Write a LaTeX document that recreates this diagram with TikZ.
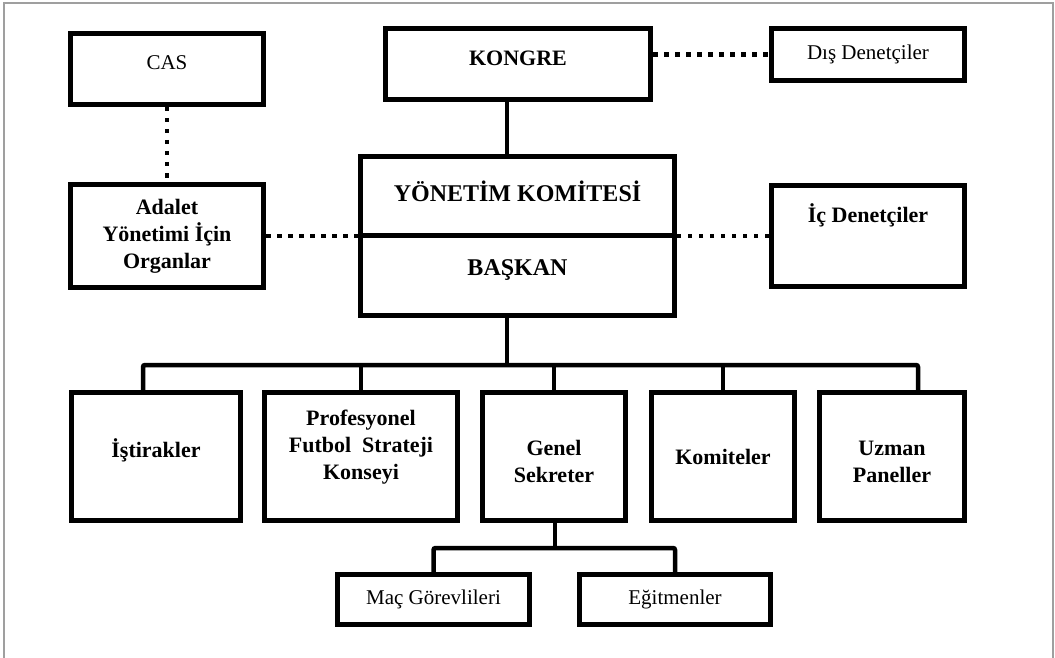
\documentclass[tikz,border=0pt]{standalone}
\usepackage{fontspec}
\setmainfont{Liberation Serif}
\usetikzlibrary{positioning}

\tikzset{
  box/.style={draw=black, line width=5pt, fill=white, inner sep=0pt, align=center,
    font=\bfseries\fontsize{22}{27}\selectfont},
  thinbox/.style={box, font=\fontsize{21}{25}\selectfont},
  bigbox/.style={box, font=\bfseries\fontsize{24}{28}\selectfont},
  dots/.style={black, line width=4.5pt, dash pattern=on 4.5pt off 6.5pt},
  link/.style={black, line width=4.5pt, rounded corners=2pt},
}

\begin{document}
\begin{tikzpicture}[x=1pt, y=-1pt]
\useasboundingbox (0,0) rectangle (1055,658);
%frame
\draw[gray!75, line width=1.5pt] (4,658) -- (4,3) -- (1053,3) -- (1053,658);

%top row
\node[thinbox, minimum width=193pt, minimum height=71pt, text depth=12pt] (cas) at (167,69) {CAS};
\node[box, minimum width=265pt, minimum height=71pt, text depth=12pt] (kongre) at (518,64) {KONGRE};
\node[thinbox, minimum width=193pt, minimum height=52pt] (dis) at (868,54.5) {Dış Denetçiler};

%middle row
\node[box, minimum width=193pt, minimum height=103pt] (adalet) at (167,236) {Adalet\\Yönetimi İçin\\Organlar};
\node[bigbox, minimum width=314pt, minimum height=78pt, text depth=10pt] (yk) at (517.5,196) {YÖNETİM KOMİTESİ};
\node[bigbox, minimum width=314pt, minimum height=80pt, text depth=14pt] (bk) at (517.5,275) {BAŞKAN};
\node[box, minimum width=193pt, minimum height=101pt] (ic) at (868,236) {};
\node[font=\bfseries\fontsize{22}{27}\selectfont] (ict) at (868,215) {İç Denetçiler};

%bottom row
\node[box, minimum width=169pt, minimum height=128pt, text depth=16pt] (ist) at (156,456.5) {İştirakler};
\node[box, minimum width=193pt, minimum height=128pt, text depth=23pt] (pro) at (361,456.5) {Profesyonel\\Futbol~~Strateji\\Konseyi};
\node[box, minimum width=143pt, minimum height=128pt, text height=52pt] (gs) at (554,456.5) {Genel\\Sekreter};
\node[box, minimum width=143pt, minimum height=128pt] (kom) at (723,456.5) {Komiteler};
\node[box, minimum width=145pt, minimum height=128pt, text height=52pt] (uzm) at (892,456.5) {Uzman\\Paneller};

%under the secretary
\node[thinbox, minimum width=192pt, minimum height=50pt] (mac) at (433.5,599.5) {Maç Görevlileri};
\node[thinbox, minimum width=191pt, minimum height=50pt] (egt) at (675,599.5) {Eğitmenler};

%solid links
\coordinate (bus) at (507,365);
\coordinate (sub) at (555,548);
\draw[link] ([xshift=-11pt]kongre.south) -- ([xshift=-11pt]kongre.south |- yk.north);
\draw[link] (bk.south -| bus) -- (bus);
\draw[link] ([xshift=-13pt]ist.north) |- (bus) -| ([xshift=26pt]uzm.north);
\draw[link] (pro.north) -- (pro.north |- bus);
\draw[link] (gs.north) -- (gs.north |- bus);
\draw[link] (kom.north) -- (kom.north |- bus);
\draw[link] (gs.south -| sub) -- (sub);
\draw[link] (mac.north) |- (sub) -| (egt.north);

%dotted links
\draw[dots] (cas.south) -- (adalet.north);
\draw[dots] (dis.west -| kongre.east) -- (dis.west);
\draw[dots] (adalet.east) -- (adalet.east -| yk.west);
\draw[dots] (ic.west) -- (ic.west -| yk.east);

\end{tikzpicture}
\end{document}
